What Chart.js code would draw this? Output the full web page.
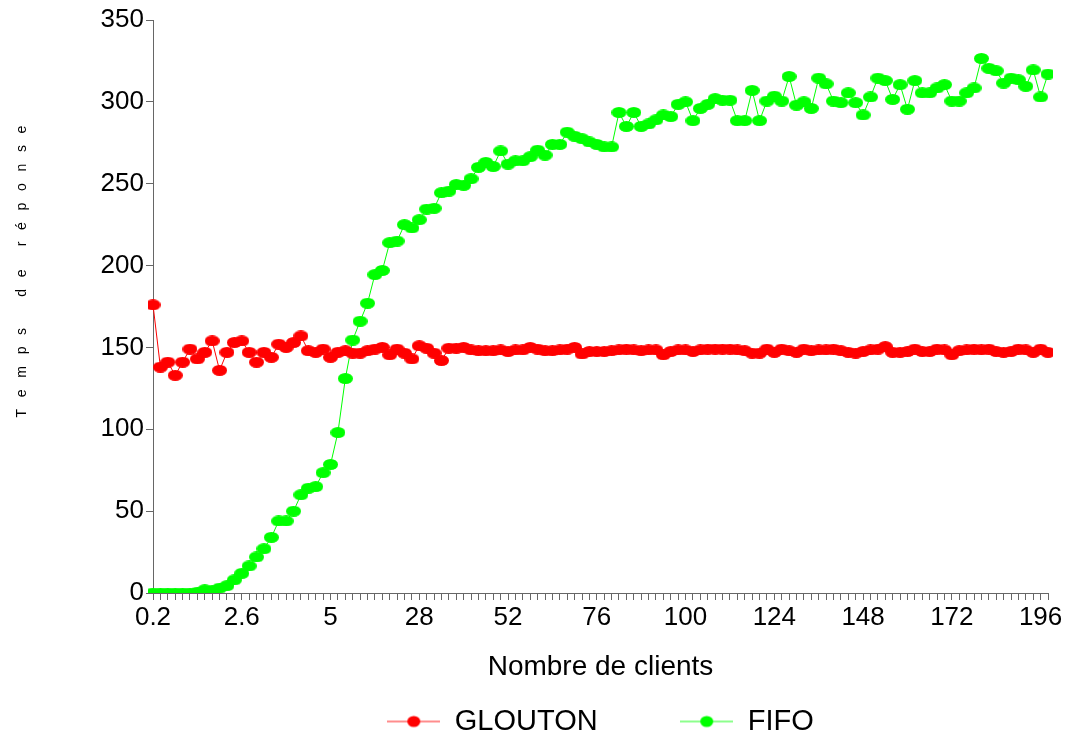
<!DOCTYPE html>
<html lang="fr">
<head>
    <meta charset="UTF-8">
    <title>Temps de réponse</title>
    <script src="https://cdn.jsdelivr.net/npm/chart.js"></script>
    <style>
        body { margin: 0; background: #fff; }
    </style>
</head>
<body>
    <canvas id="graphe" width="1072" height="736"></canvas>
    <script>
        // axe x : nombre de clients
        const clients = ['0.2','0.4','0.6','0.8','1','1.2','1.4','1.6','1.8','2','2.2','2.4','2.6','2.8','3','3.2','3.4','3.6','3.8','4','4.2','4.4','4.6','4.8','5',
            '6','8','10','12','14','16','18','20','22','24','26','28','30','32','34','36','38','40','42','44','46','48','50','52','54','56','58','60',
            '62','64','66','68','70','72','74','76','78','80','82','84','86','88','90','92','94','96','98','100','102','104','106','108','110','112',
            '114','116','118','120','122','124','126','128','130','132','134','136','138','140','142','144','146','148','150','152','154','156','158',
            '160','162','164','166','168','170','172','174','176','178','180','182','184','186','188','190','192','194','196','198'];

        const glouton = [176,138,141,133,141,149,143,147,154,136,147,153,154,147,141,147,144,152,150,153,157,148,147,149,144,
            147,148,146.5,146.5,148,149,150,145.5,149,146.5,143,151,149.5,146.5,142,149.5,149.5,150,148.5,148,148,148,148.5,147.5,148.5,
            148.5,150,149,148,148,148.5,149,150,146,147.5,147.5,147.5,148,148.5,149,148.5,148,148.5,148.5,145.5,147.5,148.5,148.5,147.5,
            148.5,149,149,149,149,148.5,148,146.5,146.5,149,147,149,148,147,149,148,148.5,148.5,149,148,147,146.5,147.5,148.5,149,150.5,
            147,147,147.5,149,147.5,147.5,149,148.5,145.5,148,148.5,149,148.5,149,147.5,147,147.5,149,148.5,147,149,147];

        const fifo = [0,0,0,0,0,0,0.5,2,1.5,3,4.5,8,12,16.5,22,27,34,44,44,50,60,64,65,73.5,78.5,
            98,131,154.5,166,177,194.5,197,214,215,225,223,228,234.5,235,244.5,245.5,249.5,249,253,260,263,260.5,270,262,264,
            264,266.5,270.5,267.5,274,274,281.5,279,277.5,275.5,274,272.5,272.5,293.5,285,293.5,285,286.5,289,292,291,298.5,300,288.5,
            296,298.5,302,301,301,288.5,288.5,307,288.5,300.5,303.5,300.5,315.5,298,300,296,314.5,311,300.5,299.5,305.5,299.5,292,303,314.5,313,
            301.5,310.5,295.5,313,305.5,305.5,308.5,310.5,300.5,300.5,305.5,308.5,326.5,320.5,319,311.5,314.5,313.5,309.5,319.5,303,317];

        const yTicks = [0, 50, 100, 150, 200, 250, 300, 350];

        const police = "'Liberation Sans', Arial, sans-serif";

        // petit ovale pour les points (le graphique d'origine est un peu étiré)
        function ovale(couleur) {
            const c = document.createElement('canvas');
            c.width = 15; c.height = 11;
            const g = c.getContext('2d');
            g.fillStyle = couleur;
            g.beginPath();
            g.ellipse(7.5, 5.5, 7.5, 5.5, 0, 0, Math.PI * 2);
            g.fill();
            return c;
        }

        // trait + point pour la légende
        function marqueLegende(couleur) {
            const c = document.createElement('canvas');
            c.width = 53; c.height = 14;
            const g = c.getContext('2d');
            g.strokeStyle = couleur;
            g.globalAlpha = 0.6;
            g.lineWidth = 1.5;
            g.beginPath();
            g.moveTo(0, 7); g.lineTo(53, 7);
            g.stroke();
            g.globalAlpha = 1;
            g.fillStyle = couleur;
            g.beginPath();
            g.ellipse(26.5, 7, 6.5, 5.5, 0, 0, Math.PI * 2);
            g.fill();
            return c;
        }

        const ctx = document.getElementById('graphe').getContext('2d');
        const graphe = new Chart(ctx, {
            type: 'line',
            data: {
                labels: clients,
                datasets: [{
                    label: 'GLOUTON',
                    data: glouton,
                    borderColor: '#ff0000',
                    backgroundColor: '#ff0000',
                    borderWidth: 1,
                    pointStyle: ovale('#ff0000'),
                    tension: 0
                }, {
                    label: 'FIFO',
                    data: fifo,
                    borderColor: '#00ff00',
                    backgroundColor: '#00ff00',
                    borderWidth: 1,
                    pointStyle: ovale('#00ff00'),
                    tension: 0
                }]
            },
            options: {
                responsive: false,
                animation: false,
                devicePixelRatio: 1,
                layout: { padding: { top: 20, right: 24, left: 0, bottom: -10 } },
                plugins: {
                    tooltip: { enabled: false },
                    legend: {
                        position: 'bottom',
                        fullSize: false,
                        labels: {
                            usePointStyle: true,
                            pointStyleWidth: 53,
                            padding: 2,
                            color: '#000',
                            font: { family: police, size: 29 },
                            generateLabels(chart) {
                                return chart.data.datasets.map((ds, i) => ({
                                    text: i === 0 ? ds.label + '          ' : ds.label,
                                    pointStyle: marqueLegende(ds.borderColor),
                                    fillStyle: ds.borderColor,
                                    strokeStyle: ds.borderColor,
                                    lineWidth: 0,
                                    fontColor: '#000',
                                    datasetIndex: i
                                }));
                            }
                        }
                    }
                },
                scales: {
                    x: {
                        offset: false,
                        grid: { display: true, drawOnChartArea: false, drawTicks: true, tickLength: 7, color: '#666' },
                        border: { display: true, color: '#666', width: 1 },
                        ticks: {
                            autoSkip: false,
                            maxRotation: 0,
                            padding: 2,
                            color: '#000',
                            font: { family: police, size: 26 },
                            callback: (v, i) => i % 12 === 0 ? clients[i] : ''
                        },
                        title: {
                            display: true,
                            text: 'Nombre de clients',
                            color: '#000',
                            font: { family: police, size: 28 },
                            padding: { top: 0, bottom: 21 }
                        },
                        afterFit(s) { s.height = 112; }
                    },
                    y: {
                        min: 0,
                        max: 350,
                        afterBuildTicks(s) { s.ticks = yTicks.map(v => ({ value: v })); },
                        grid: { display: true, drawOnChartArea: false, drawTicks: true, tickLength: 7, color: '#666' },
                        border: { display: true, color: '#666', width: 1 },
                        ticks: {
                            padding: 2,
                            color: '#000',
                            font: { family: police, size: 26 }
                        },
                        title: {
                            display: true,
                            text: '                  T   e   m   p   s        d   e      r   é   p   o   n   s   e',
                            color: '#000',
                            font: { family: police, size: 14 },
                            padding: { top: 14, bottom: 0 }
                        },
                        afterFit(s) { s.width = 153; }
                    }
                }
            }
        });
    </script>
</body>
</html>
